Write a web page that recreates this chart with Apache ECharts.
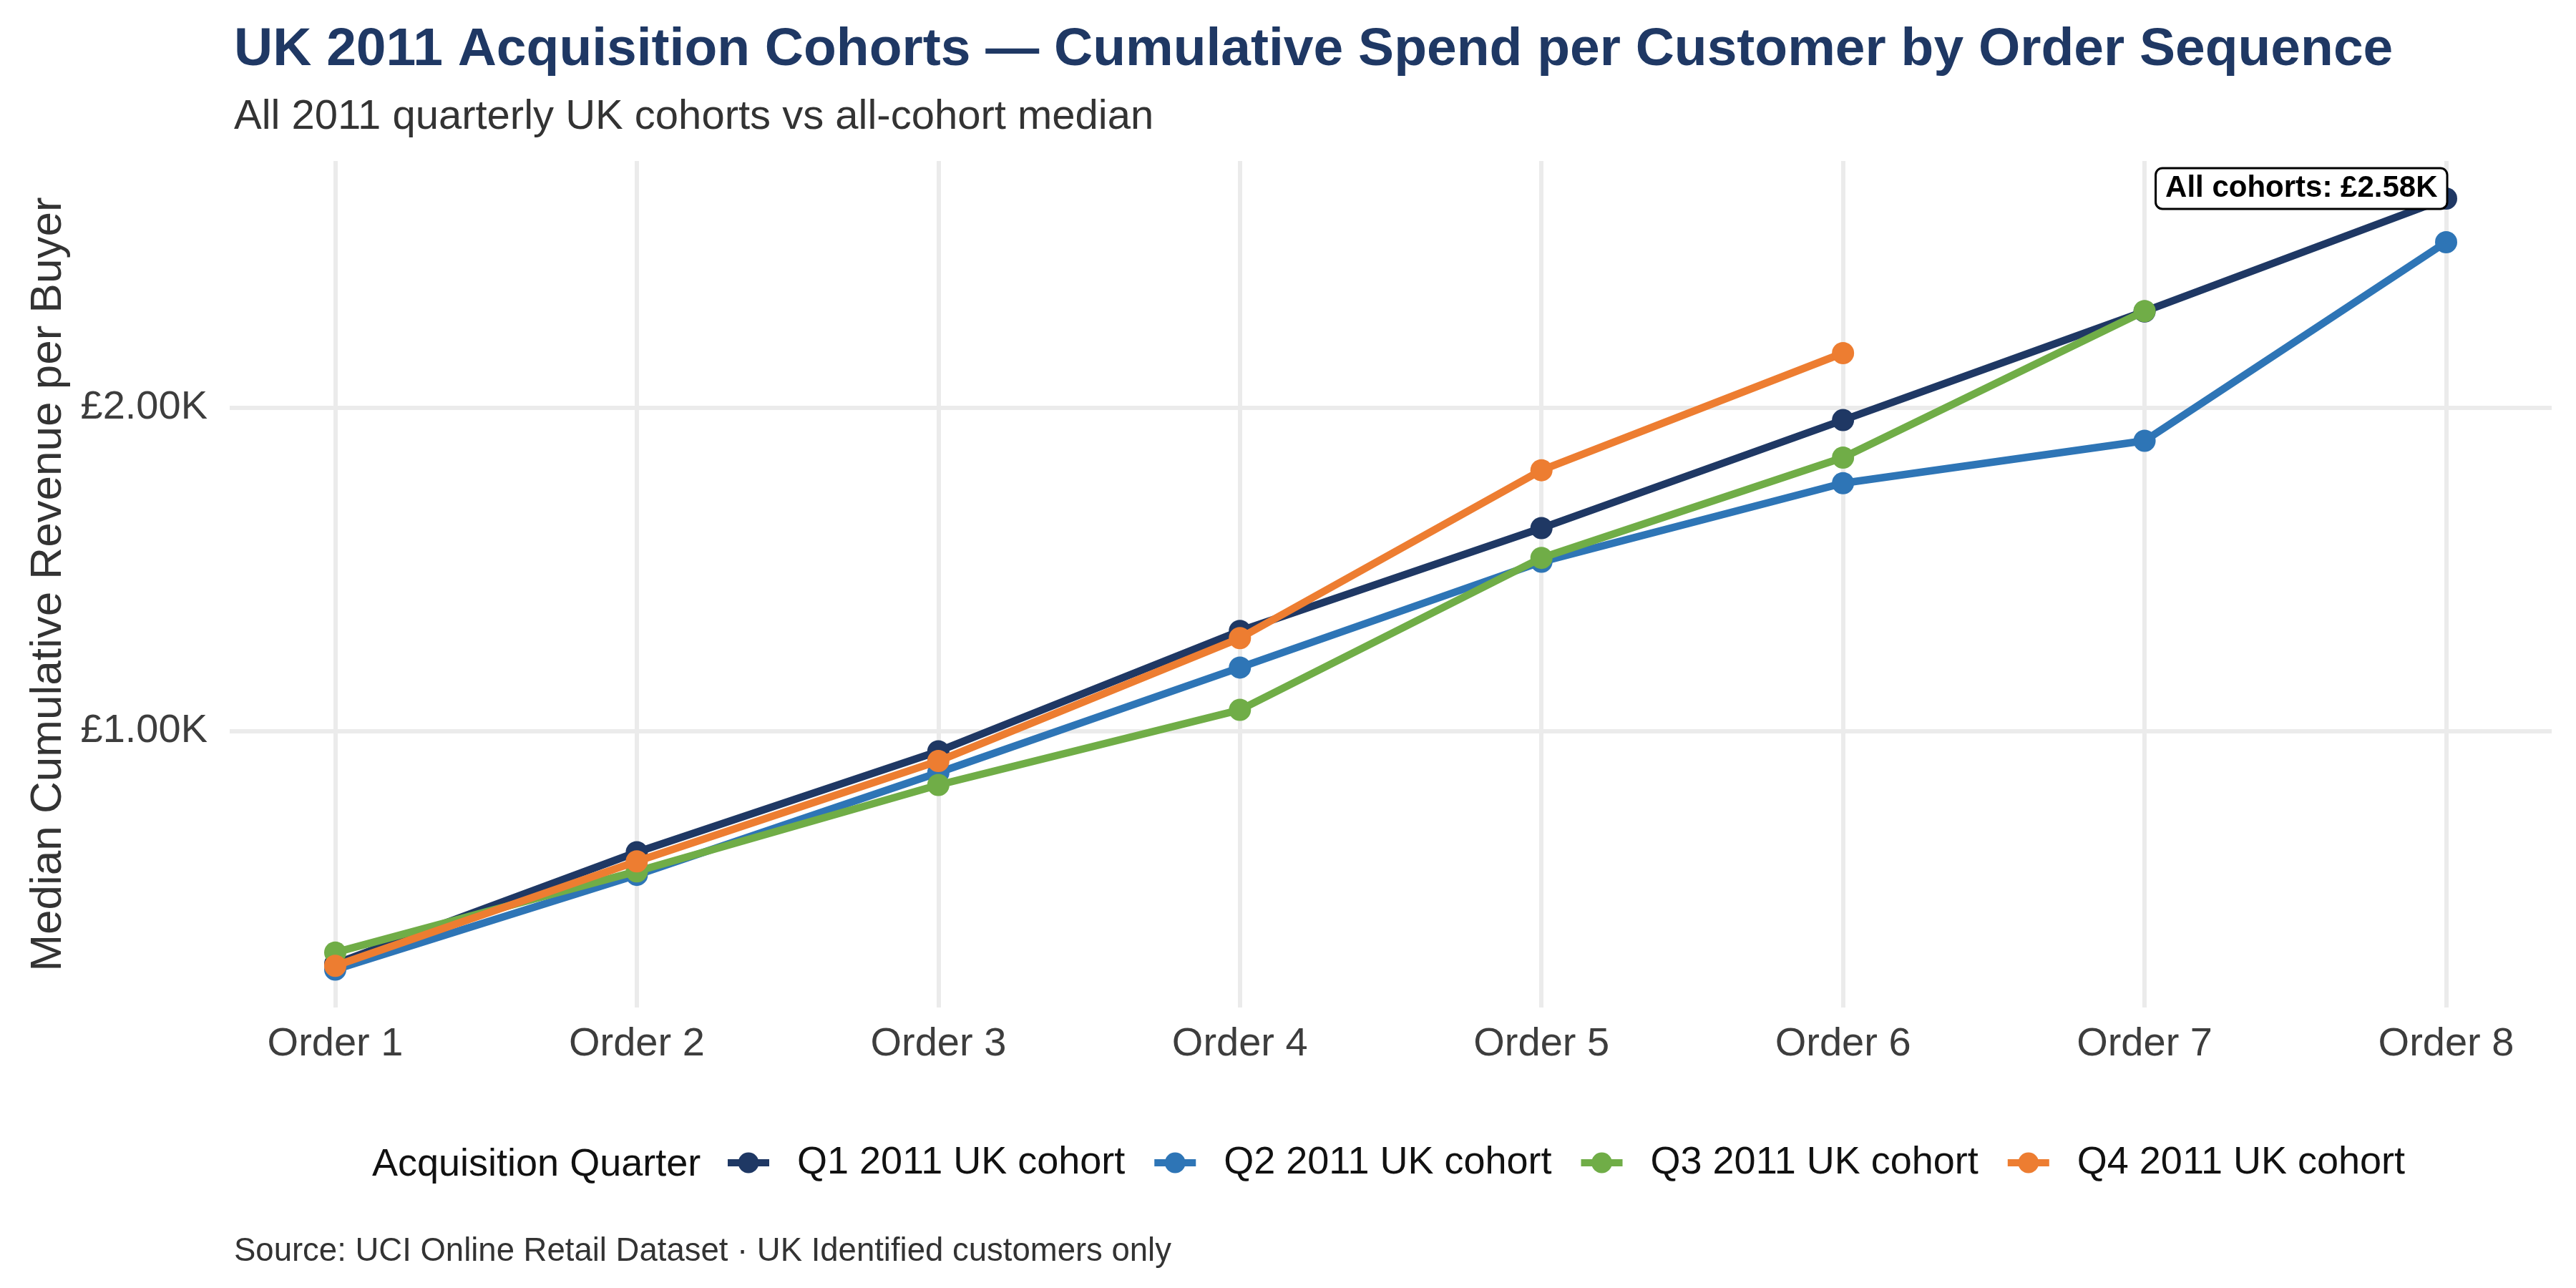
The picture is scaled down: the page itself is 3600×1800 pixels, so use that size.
<!DOCTYPE html>
<html>
<head>
<meta charset="utf-8">
<script src="https://cdn.jsdelivr.net/npm/echarts@6/dist/echarts.min.js"></script>
<style>
  html, body { margin: 0; padding: 0; background: #fff; }
  #chart { width: 3600px; height: 1800px; }
</style>
</head>
<body>
<div id="chart"></div>
<script>
// order sequence (x) and its tick labels
var orderNums = [1, 2, 3, 4, 5, 6, 7, 8];
var orderLabels = ['Order 1', 'Order 2', 'Order 3', 'Order 4', 'Order 5', 'Order 6', 'Order 7', 'Order 8'];

// median cumulative revenue per buyer (GBP)
var q1 = [280, 625, 937, 1309, 1627, 1961, 2297, 2646];
var q2 = [262, 555, 871, 1196, 1523, 1766, 1897, 2511];
var q3 = [315, 566, 833, 1065, 1535, 1845, 2298];
var q4 = [274, 597, 907, 1287, 1806, 2168];

var cohortNames = ['Q1 2011 UK cohort', 'Q2 2011 UK cohort', 'Q3 2011 UK cohort', 'Q4 2011 UK cohort'];
var cohortColors = ['#1f3864', '#2e75b6', '#70ad47', '#ed7d31'];

var allCohortsMedian = 2580;
var yTicks = [1000, 2000];

var FONT = '"Liberation Sans", Arial, sans-serif';

function toPoints(vals) {
  return vals.map(function (v, i) { return [orderNums[i], v]; });
}

function fmtK(v) {
  return '\u00a3' + (v / 1000).toFixed(2) + 'K';
}

var chart = echarts.init(document.getElementById('chart'), null, { renderer: 'canvas' });

var seriesVals = [q1, q2, q3, q4];
var series = seriesVals.map(function (vals, idx) {
  return {
    name: cohortNames[idx],
    type: 'line',
    data: toPoints(vals),
    symbol: 'circle',
    symbolSize: 31,
    showAllSymbol: true,
    lineStyle: { width: 10.5, color: cohortColors[idx] },
    itemStyle: { color: cohortColors[idx] },
    emphasis: { disabled: true },
    z: 2 + idx
  };
});

// annotation sits at the Q1 end point, like the reference label
series[0].markPoint = {
  symbol: 'circle',
  symbolSize: 0,
  silent: true,
  z: 10,
  data: [{ coord: [orderNums[q1.length - 1], q1[q1.length - 1]], value: allCohortsMedian }],
  label: {
    show: true,
    position: 'left',
    distance: 0,
    offset: [0, -14],
    formatter: function (p) { return 'All cohorts: ' + fmtK(p.value); },
    fontFamily: FONT,
    fontWeight: 'bold',
    fontSize: 42,
    color: '#000',
    backgroundColor: '#fff',
    borderColor: '#000',
    borderWidth: 3,
    borderRadius: 8,
    padding: [7, 12, 5, 12]
  }
};

chart.setOption({
  backgroundColor: '#fff',
  animation: false,
  title: [
    {
      text: 'UK 2011 Acquisition Cohorts \u2014 Cumulative Spend per Customer by Order Sequence',
      left: 322, top: 28,
      textStyle: { fontFamily: FONT, fontSize: 75, fontWeight: 'bold', color: '#1f3864' }
    },
    {
      text: 'All 2011 quarterly UK cohorts vs all-cohort median',
      left: 322, top: 130,
      textStyle: { fontFamily: FONT, fontSize: 58, fontWeight: 'normal', color: '#333333' }
    },
    {
      text: 'Acquisition Quarter',
      left: 515, top: 1596,
      textStyle: { fontFamily: FONT, fontSize: 54, fontWeight: 'normal', color: '#111111' }
    },
    {
      text: 'Source: UCI Online Retail Dataset \u00b7 UK Identified customers only',
      left: 322, top: 1721,
      textStyle: { fontFamily: FONT, fontSize: 45.5, fontWeight: 'normal', color: '#333333' }
    }
  ],
  legend: {
    left: 1007, top: 1593,
    itemWidth: 58, itemHeight: 36,
    itemGap: 36,
    selectedMode: false,
    data: cohortNames,
    lineStyle: { width: 10 },
    textStyle: { fontFamily: FONT, fontSize: 54, color: '#111111', padding: [0, 0, 0, 34] }
  },
  grid: { left: 321, right: 34, top: 225, bottom: 392, containLabel: false },
  xAxis: {
    type: 'value',
    min: 0.65, max: 8.35,
    axisLine: { show: false },
    axisTick: { show: false, customValues: orderNums },
    axisLabel: {
      customValues: orderNums,
      margin: 24,
      fontFamily: FONT, fontSize: 56, color: '#3d3d3d',
      formatter: function (v) { return orderLabels[orderNums.indexOf(v)] || ''; }
    },
    splitLine: { show: true, lineStyle: { color: '#ebebeb', width: 6 } }
  },
  yAxis: {
    type: 'value',
    min: 145, max: 2762,
    name: 'Median Cumulative Revenue per Buyer',
    nameLocation: 'middle',
    nameRotate: 90,
    nameGap: 222,
    nameTextStyle: { fontFamily: FONT, fontSize: 62, color: '#333333' },
    axisLine: { show: false },
    axisTick: { show: false, customValues: yTicks },
    axisLabel: {
      customValues: yTicks,
      margin: 31,
      fontFamily: FONT, fontSize: 56, color: '#3d3d3d',
      formatter: fmtK
    },
    splitLine: { show: true, lineStyle: { color: '#ebebeb', width: 6 } }
  },
  series: series
});
</script>
</body>
</html>
